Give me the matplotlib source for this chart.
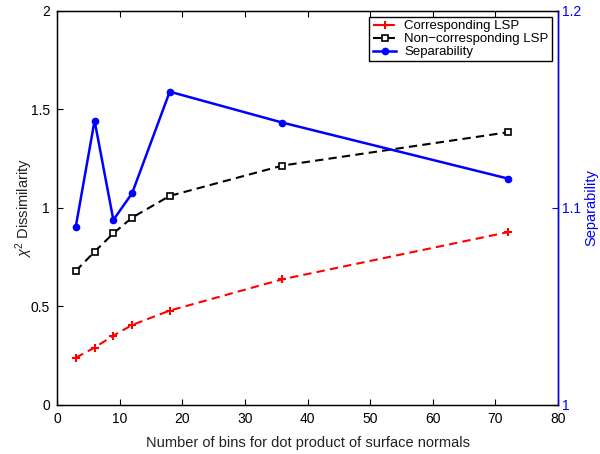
import numpy as np
import matplotlib.pyplot as plt

plt.rcParams['font.family'] = ['Liberation Sans', 'DejaVu Sans']
plt.rcParams['mathtext.fontset'] = 'custom'
plt.rcParams['mathtext.it'] = 'Liberation Sans:italic'
plt.rcParams['mathtext.rm'] = 'Liberation Sans'

# data
bins = [3, 6, 9, 12, 18, 36, 72]
corresponding = [0.240, 0.291, 0.352, 0.406, 0.479, 0.638, 0.877]
non_corresponding = [0.680, 0.778, 0.871, 0.951, 1.061, 1.215, 1.384]
separability = [1.0905, 1.1443, 1.0939, 1.1075, 1.159, 1.1433, 1.1149]

fig = plt.figure(figsize=(6, 4.54), dpi=100)
ax = fig.add_axes([0.095, 0.108, 0.835, 0.868])
ax2 = ax.twinx()

l1, = ax.plot(bins, corresponding, 'r--', marker='+', markersize=6, mew=1.5, lw=1.5,
              dashes=(4, 2.5), label='Corresponding LSP')
l2, = ax.plot(bins, non_corresponding, 'k--', marker='s', markersize=4.5, mfc='white',
              mew=1.2, lw=1.5, dashes=(4, 2.5), label='Non\u2212corresponding LSP')
l3, = ax2.plot(bins, separability, '-', color='#0000ff', marker='o', markersize=4.5,
               lw=1.8, label='Separability')

ax.set_xlim(0, 80)
ax.set_ylim(0, 2)
ax.set_xticks(np.arange(0, 81, 10))
ax.set_yticks([0, 0.5, 1, 1.5, 2])
ax.set_yticklabels(['0', '0.5', '1', '1.5', '2'])
ax2.set_ylim(1, 1.2)
ax2.set_yticks([1, 1.1, 1.2])
ax2.set_yticklabels(['1', '1.1', '1.2'])

ax.tick_params(direction='in', length=4, labelsize=10, top=True, right=False, pad=5)
ax2.tick_params(direction='in', length=4, labelsize=10, colors='#0000ff', pad=3)
ax2.spines['right'].set_color('#0000ff')
for s in ['left', 'right', 'top', 'bottom']:
    ax.spines[s].set_linewidth(1.0)
ax2.spines['right'].set_linewidth(1.0)

ax.set_xlabel('Number of bins for dot product of surface normals', fontsize=10.5,
              color='#222222', labelpad=7)
ax.set_ylabel('$\\chi^2$ Dissimilarity', fontsize=10.5, color='#222222', labelpad=-3)
ax2.set_ylabel('Separability', fontsize=10.5, color='#0000ff', labelpad=2)

leg = ax2.legend(handles=[l1, l2, l3], loc='upper right', fontsize=9.5, fancybox=False,
                 framealpha=1, edgecolor='black', handlelength=1.8, borderaxespad=0.45,
                 labelspacing=0.05, borderpad=0.25, handletextpad=0.6)
leg.get_frame().set_linewidth(1.0)

fig.savefig('out.png', dpi=100)
